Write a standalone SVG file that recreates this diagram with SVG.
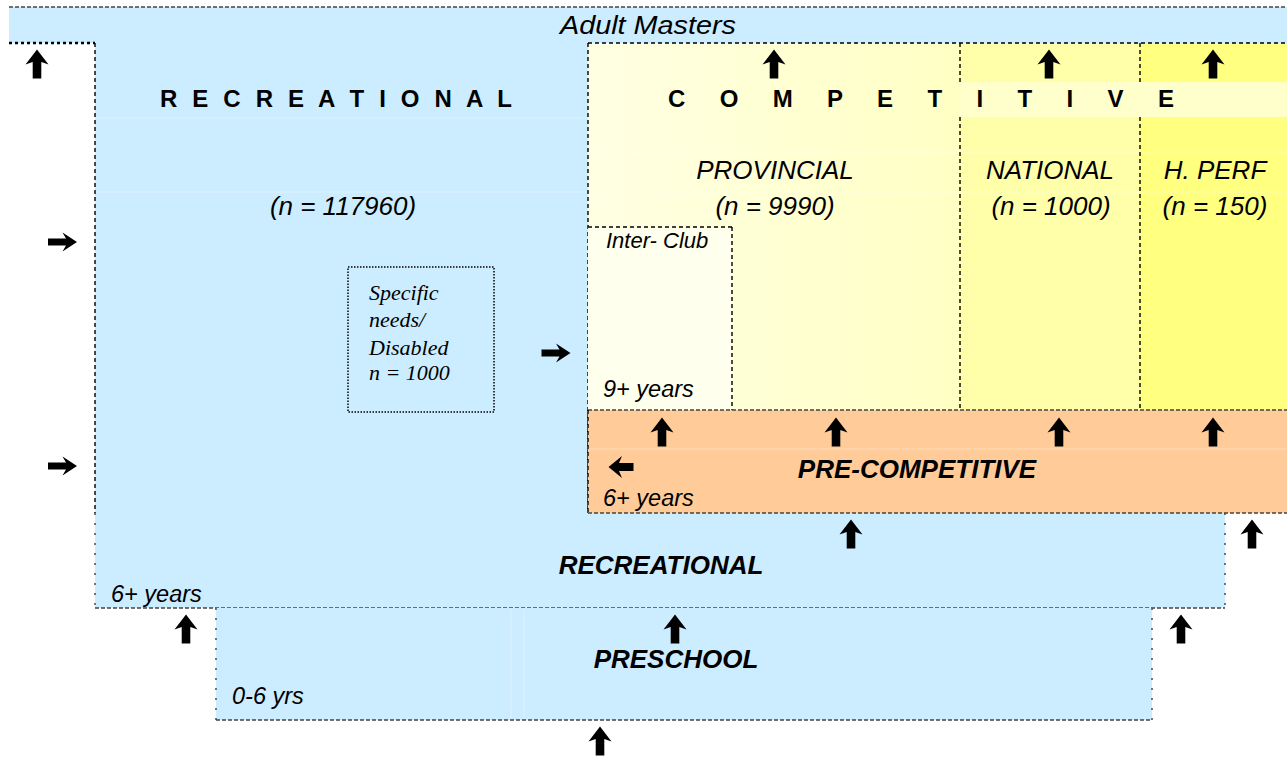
<svg xmlns="http://www.w3.org/2000/svg" width="1287" height="757" viewBox="0 0 1287 757">
<defs>
<linearGradient id="provGrad" x1="0" x2="1" y1="0" y2="0"><stop offset="0" stop-color="#FFFFE4"/><stop offset="1" stop-color="#FFFFC4"/></linearGradient>
<path id="up" d="M0,-14.5 L11.5,0.5 L4.3,-2 L4.3,14.5 L-4.3,14.5 L-4.3,-2 L-11.5,0.5 Z"/>
<path id="right" d="M14.5,0 L0,-9.5 L3.5,-3.6 L-14.5,-3.6 L-14.5,3.6 L3.5,3.6 L0,9.5 Z"/>
<path id="left" d="M-12.5,0 L1,-11 L-2,-4 L12.5,-4 L12.5,4 L-2,4 L1,11 Z"/>
</defs>
<style>
.t{font-family:"Liberation Sans",Arial,sans-serif;fill:#000}
.s{font-family:"Liberation Serif","Times New Roman",serif;font-style:italic;font-size:22px;fill:#000}
.i{font-style:italic}
.b{font-weight:bold}
.f26{font-size:26px}
.f23{font-size:23.5px}
.dk{fill:none;stroke:#000;stroke-width:1.4;stroke-dasharray:4 3}
.gr{fill:none;stroke:#444;stroke-width:1.4;stroke-dasharray:4 2}
.dt{fill:none;stroke:#555;stroke-width:1.6;stroke-dasharray:2 8}
.faint{fill:none;stroke:#fff;stroke-opacity:.35;stroke-width:1}
.blue{fill:#CCECFF}
.arr{fill:#000}
</style>

<g id="adult-masters">
<rect x="9" y="7" width="1278" height="36" class="blue"/>
<line x1="9" y1="7" x2="1287" y2="7" class="gr"/>
<line x1="9" y1="43" x2="95" y2="43" stroke="#000" stroke-width="2.5" stroke-dasharray="3 3"/>
<text x="560" y="34" class="t i" font-size="26" textLength="176" lengthAdjust="spacingAndGlyphs">Adult Masters</text>
</g>

<g id="recreational-upper">
<rect x="95" y="43" width="493" height="470" class="blue"/>
<line x1="95" y1="118" x2="588" y2="118" class="faint"/>
<line x1="95" y1="192" x2="588" y2="192" class="faint"/>
<line x1="95" y1="43" x2="95" y2="513" class="dk"/>
<text x="160" y="107" class="t b" font-size="24" textLength="352" lengthAdjust="spacing">R E C R E A T I O N A L</text>
<text x="343" y="215" class="t i f26" text-anchor="middle">(n = 117960)</text>
</g>

<g id="recreational-lower">
<rect x="95" y="513" width="1130" height="95" class="blue"/>
<line x1="95" y1="513" x2="95" y2="608" class="dt"/>
<line x1="1225" y1="513" x2="1225" y2="608" class="dt"/>
<line x1="95" y1="608" x2="1225" y2="608" class="gr"/>
<text x="661" y="574" class="t b i f26" text-anchor="middle">RECREATIONAL</text>
<text x="111" y="602" class="t i f23">6+ years</text>
</g>

<g id="competitive">
<rect x="588" y="43" width="372" height="367" fill="url(#provGrad)"/>
<rect x="960" y="43" width="180" height="367" fill="#FFFFAA"/>
<rect x="1140" y="43" width="147" height="367" fill="#FFFF80"/>
<rect x="960" y="82" width="327" height="35" fill="#FFFFCC"/>
<line x1="588" y1="153" x2="1287" y2="153" class="faint"/>
<line x1="588" y1="192" x2="1287" y2="192" class="faint"/>
<line x1="588" y1="43" x2="1287" y2="43" class="dk"/>
<line x1="588" y1="43" x2="588" y2="513" class="dk"/>
<line x1="960" y1="43" x2="960" y2="82" class="dk"/>
<line x1="960" y1="117" x2="960" y2="410" class="dk"/>
<line x1="1140" y1="43" x2="1140" y2="82" class="dk"/>
<line x1="1140" y1="117" x2="1140" y2="410" class="dk"/>
<text x="668" y="107" class="t b" font-size="24" textLength="506" lengthAdjust="spacing">C O M P E T I T I V E</text>
</g>

<g id="provincial">
<text x="775" y="179" class="t i f26" text-anchor="middle">PROVINCIAL</text>
<text x="775" y="215" class="t i f26" text-anchor="middle">(n = 9990)</text>
</g>

<g id="national">
<text x="1050" y="179" class="t i f26" text-anchor="middle">NATIONAL</text>
<text x="1051" y="215" class="t i f26" text-anchor="middle">(n = 1000)</text>
</g>

<g id="high-performance">
<text x="1215" y="179" class="t i f26" text-anchor="middle">H. PERF</text>
<text x="1215" y="215" class="t i f26" text-anchor="middle">(n = 150)</text>
</g>

<g id="inter-club">
<rect x="588" y="227" width="144" height="183" fill="#FFFFEE"/>
<line x1="588" y1="227" x2="732" y2="227" class="dk"/>
<line x1="732" y1="227" x2="732" y2="410" class="dk"/>
<text x="606" y="248" class="t i" font-size="22">Inter- Club</text>
<text x="603" y="397" class="t i f23">9+ years</text>
</g>

<g id="pre-competitive">
<rect x="588" y="410" width="699" height="103" fill="#FFCC99"/>
<line x1="588" y1="449" x2="1287" y2="449" class="faint"/>
<line x1="588" y1="410" x2="1287" y2="410" class="gr"/>
<line x1="588" y1="513" x2="1287" y2="513" class="gr"/>
<line x1="588" y1="410" x2="588" y2="513" class="dk"/>
<text x="917" y="478" class="t b i f26" text-anchor="middle">PRE-COMPETITIVE</text>
<text x="603" y="506" class="t i f23">6+ years</text>
</g>

<g id="preschool">
<rect x="216" y="608" width="936" height="112" class="blue"/>
<line x1="511" y1="609" x2="511" y2="719" class="faint"/>
<line x1="524" y1="609" x2="524" y2="719" class="faint"/>
<line x1="216" y1="608" x2="216" y2="720" class="dt"/>
<line x1="1152" y1="608" x2="1152" y2="720" class="dt"/>
<line x1="216" y1="720" x2="1152" y2="720" class="gr"/>
<text x="676" y="668" class="t b i f26" text-anchor="middle">PRESCHOOL</text>
<text x="232" y="704" class="t i f23">0-6 yrs</text>
</g>

<g id="specific-needs">
<rect x="348" y="267" width="146" height="145" fill="none" stroke="#000" stroke-width="1.5" stroke-dasharray="1.5 1.5"/>
<text x="369" y="300" class="s">Specific</text>
<text x="369" y="327" class="s">needs/</text>
<text x="369" y="355" class="s">Disabled</text>
<text x="369" y="380" class="s">n = 1000</text>
</g>

<g id="connectors" class="arr">
<use href="#up" transform="translate(37,64)"/>
<use href="#up" transform="translate(774,64)"/>
<use href="#up" transform="translate(1049,64)"/>
<use href="#up" transform="translate(1213,64)"/>
<use href="#right" transform="translate(62.5,242)"/>
<use href="#right" transform="translate(62.5,466)"/>
<use href="#right" transform="translate(556,353)"/>
<use href="#up" transform="translate(662,432)"/>
<use href="#up" transform="translate(836,432)"/>
<use href="#up" transform="translate(1059,432)"/>
<use href="#up" transform="translate(1213,432)"/>
<use href="#left" transform="translate(621,467)"/>
<use href="#up" transform="translate(851,534)"/>
<use href="#up" transform="translate(1252,534)"/>
<use href="#up" transform="translate(186,629)"/>
<use href="#up" transform="translate(675,629)"/>
<use href="#up" transform="translate(1181,629)"/>
<use href="#up" transform="translate(600,741)"/>
</g>
</svg>
